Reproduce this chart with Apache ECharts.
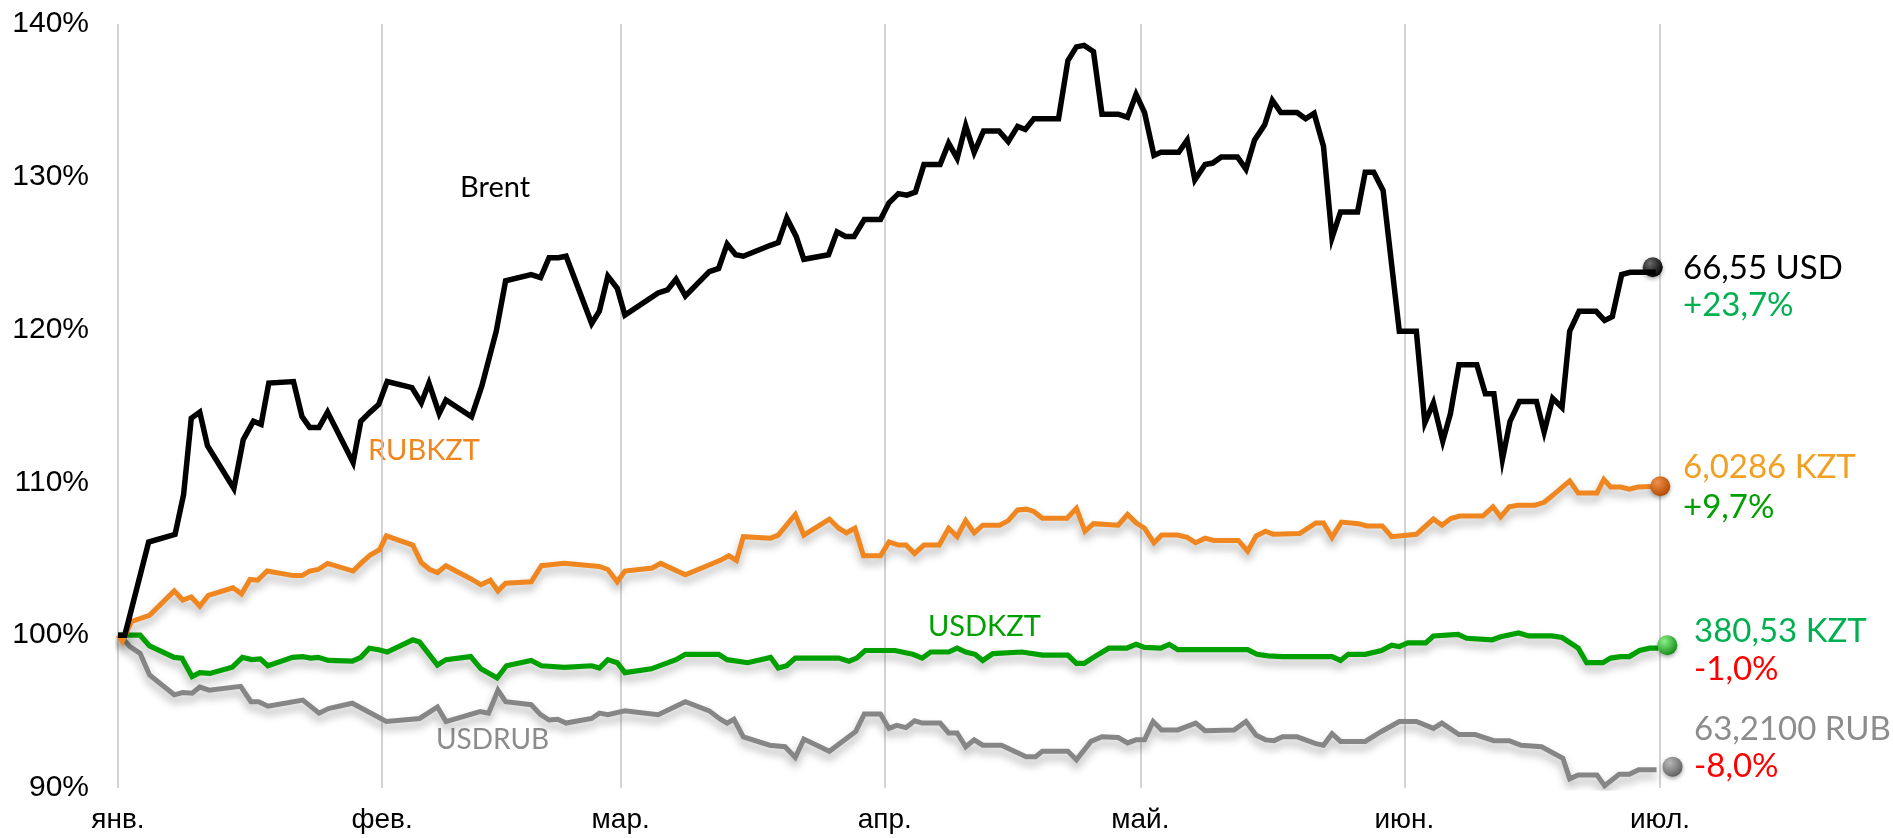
<!DOCTYPE html>
<html>
<head>
<meta charset="utf-8">
<title>Brent, RUBKZT, USDKZT, USDRUB</title>
<style>
  html, body { margin: 0; padding: 0; background: #fff; }
  #container { width: 1893px; height: 838px; }
</style>
</head>
<body>
<div id="container"></div>
<script src="https://cdn.jsdelivr.net/npm/echarts@6/dist/echarts.min.js"></script>
<script>
// day offsets from 1 Jan (month starts) and their labels
var monthDays = [0, 31, 59, 90, 120, 151, 181];
var monthNames = ['янв.', 'фев.', 'мар.', 'апр.', 'май.', 'июн.', 'июл.'];
var yTicks = [90, 100, 110, 120, 130, 140];

// [day, % of 1 Jan level]
var brent = [[0,100],[0.8,100],[3.6,106.1],[6.7,106.6],[7.7,109.2],[8.6,114.2],[9.6,114.6],[10.5,112.4],[13.6,109.6],[14.7,112.8],[15.9,114.0],[16.8,113.8],[17.7,116.5],[20.6,116.6],[21.6,114.3],[22.5,113.6],[23.6,113.6],[24.6,114.6],[27.6,111.3],[28.5,114.0],[29.6,114.6],[30.6,115.1],[31.6,116.6],[34.5,116.2],[35.6,115.2],[36.5,116.5],[37.7,114.5],[38.5,115.4],[41.5,114.3],[42.7,116.3],[44.4,119.9],[45.5,123.2],[48.5,123.6],[49.6,123.4],[50.6,124.7],[51.7,124.7],[52.6,124.8],[55.6,120.4],[56.5,121.2],[57.5,123.5],[58.6,122.7],[59.5,120.95],[63.4,122.4],[64.5,122.6],[65.5,123.3],[66.6,122.2],[69.4,123.8],[70.5,124.0],[71.5,125.6],[72.5,124.9],[73.4,124.8],[76.5,125.5],[77.5,125.7],[78.5,127.3],[79.6,126.1],[80.5,124.6],[83.4,124.9],[84.4,126.4],[85.4,126.1],[86.4,126.1],[87.6,127.2],[89.5,127.2],[90.5,128.3],[91.6,128.9],[92.6,128.8],[93.6,129.0],[94.6,130.8],[96.5,130.8],[97.5,132.2],[98.5,131.2],[99.5,133.35],[100.5,131.6],[101.6,133.0],[103.4,133.0],[104.5,132.3],[105.6,133.3],[106.5,133.1],[107.5,133.8],[110.4,133.8],[111.5,137.6],[112.5,138.5],[113.4,138.6],[114.5,138.2],[115.5,134.1],[117.4,134.1],[118.5,133.9],[119.5,135.4],[120.5,134.2],[121.6,131.4],[122.4,131.6],[124.5,131.6],[125.5,132.4],[126.4,129.8],[127.6,130.8],[128.5,130.9],[129.5,131.3],[131.4,131.3],[132.4,130.5],[133.4,132.4],[134.6,133.4],[135.5,135.0],[136.5,134.2],[138.4,134.2],[139.4,133.8],[140.4,134.15],[141.5,132.0],[142.5,126.0],[143.5,127.7],[145.5,127.7],[146.4,130.3],[147.4,130.3],[148.5,129.1],[150.4,119.9],[152.4,119.9],[153.4,113.9],[154.4,115.2],[155.5,112.7],[156.4,114.5],[157.4,117.7],[159.5,117.7],[160.5,115.8],[161.5,115.8],[162.5,111.5],[163.4,114.0],[164.5,115.3],[166.5,115.3],[167.4,113.3],[168.4,115.5],[169.5,114.9],[170.4,119.9],[171.5,121.2],[173.5,121.2],[174.5,120.6],[175.4,120.85],[176.5,123.6],[177.5,123.75],[180.5,123.75]];

var rubkzt = [[0,100],[0.5,99.6],[1.6,100.9],[3.7,101.3],[6.6,102.9],[7.6,102.3],[8.6,102.5],[9.6,101.9],[10.6,102.6],[13.5,103.1],[14.5,102.7],[15.5,103.65],[16.4,103.6],[17.5,104.2],[20.6,103.9],[21.6,103.9],[22.5,104.2],[23.5,104.3],[24.6,104.7],[27.6,104.2],[28.6,104.75],[29.6,105.25],[30.7,105.6],[31.5,106.5],[34.6,105.9],[35.6,104.75],[36.6,104.3],[37.5,104.1],[38.5,104.55],[41.4,103.7],[42.6,103.3],[43.7,103.6],[44.6,102.9],[45.5,103.4],[48.5,103.5],[49.7,104.55],[52.4,104.7],[56.5,104.5],[57.5,104.3],[58.6,103.5],[59.5,104.2],[62.7,104.4],[63.7,104.7],[66.6,103.95],[70.7,104.9],[71.7,105.2],[72.6,104.9],[73.4,106.45],[76.6,106.35],[77.5,106.55],[79.5,107.9],[80.5,106.55],[83.5,107.6],[84.6,107.0],[85.5,106.7],[86.5,107.0],[87.5,105.2],[89.5,105.2],[90.5,106.1],[91.6,105.9],[92.5,105.9],[93.5,105.35],[94.6,105.9],[96.4,105.9],[97.5,107.0],[98.5,106.45],[99.5,107.5],[100.5,106.7],[101.5,107.2],[103.5,107.2],[104.5,107.5],[105.6,108.2],[106.6,108.25],[107.5,108.1],[108.5,107.65],[111.4,107.65],[112.5,108.3],[113.5,106.8],[114.5,107.3],[117.4,107.2],[118.5,107.9],[119.5,107.35],[120.5,107.0],[121.6,106.05],[122.5,106.55],[124.4,106.55],[125.5,106.4],[126.5,106.05],[127.6,106.35],[128.6,106.2],[131.5,106.2],[132.6,105.5],[133.6,106.5],[134.7,106.8],[135.6,106.6],[138.7,106.65],[140.6,107.35],[141.5,107.35],[142.5,106.4],[143.6,107.4],[145.6,107.3],[146.6,107.15],[148.4,107.15],[149.5,106.45],[152.4,106.6],[154.4,107.6],[155.4,107.2],[156.5,107.65],[157.5,107.8],[160.2,107.8],[161.4,108.4],[162.3,107.75],[163.3,108.4],[164.3,108.5],[166.3,108.5],[167.4,108.7],[168.5,109.2],[170.4,110.1],[171.4,109.3],[173.6,109.3],[174.4,110.2],[175.2,109.7],[176.4,109.7],[177.4,109.55],[178.4,109.7],[180.8,109.75]];

var usdkzt = [[0,100],[2.6,100],[3.7,99.3],[6.6,98.55],[7.5,98.5],[8.7,97.3],[9.6,97.55],[10.8,97.5],[13.4,97.9],[14.6,98.55],[15.7,98.4],[16.7,98.45],[17.6,98.0],[20.5,98.55],[21.7,98.6],[22.6,98.5],[23.5,98.55],[24.7,98.35],[27.5,98.3],[28.5,98.55],[29.5,99.15],[30.6,99.05],[31.6,98.9],[34.6,99.7],[35.4,99.55],[37.5,98.05],[38.5,98.4],[41.4,98.6],[42.6,97.8],[44.5,97.2],[45.6,98.0],[48.5,98.35],[49.7,98.0],[52.4,97.9],[55.6,98.0],[56.5,97.85],[57.5,98.4],[58.6,98.2],[59.5,97.55],[62.6,97.8],[65.5,98.4],[66.6,98.75],[70.5,98.75],[71.5,98.4],[73.9,98.2],[76.6,98.55],[77.5,97.85],[78.5,98.0],[79.5,98.5],[84.6,98.5],[85.8,98.3],[86.7,98.5],[87.7,99.0],[91.2,99.0],[93.3,98.75],[94.4,98.5],[95.4,98.9],[97.5,98.9],[98.5,99.15],[99.5,98.9],[100.6,98.75],[101.5,98.35],[102.7,98.8],[106.1,98.9],[108.5,98.7],[111.5,98.7],[112.5,98.15],[113.4,98.15],[114.5,98.55],[116.3,99.15],[118.4,99.15],[119.5,99.4],[120.5,99.2],[122.4,99.15],[123.4,99.4],[124.4,99.05],[132.6,99.05],[133.7,98.75],[135.0,98.65],[136.7,98.6],[142.5,98.6],[143.5,98.35],[144.4,98.75],[146.4,98.75],[148.3,99.0],[149.5,99.35],[150.4,99.25],[151.4,99.5],[153.5,99.5],[154.4,99.95],[157.3,100.05],[158.3,99.8],[161.3,99.7],[162.3,99.9],[164.4,100.15],[165.6,99.95],[168.3,99.95],[169.5,99.85],[171.4,99.15],[172.4,98.2],[174.3,98.2],[175.2,98.5],[176.4,98.6],[177.4,98.6],[178.6,99.0],[179.8,99.15],[180.8,99.15]];

var usdrub = [[0,100],[0.4,99.9],[1.4,99.25],[2.6,98.8],[3.7,97.4],[6.6,96.1],[7.6,96.25],[8.7,96.2],[9.6,96.6],[10.7,96.4],[14.4,96.65],[15.6,95.65],[16.5,95.65],[17.6,95.35],[21.7,95.75],[23.6,94.9],[24.7,95.2],[27.5,95.55],[31.5,94.35],[35.4,94.55],[37.5,95.3],[38.5,94.35],[42.5,95.0],[43.5,94.9],[44.6,96.4],[45.5,95.65],[48.5,95.45],[49.6,94.8],[50.6,94.45],[51.6,94.5],[52.6,94.25],[55.6,94.55],[56.5,94.9],[57.5,94.8],[59.5,95.05],[63.4,94.8],[66.6,95.65],[69.4,95.05],[70.7,94.5],[71.5,94.25],[72.3,94.5],[73.4,93.35],[76.5,92.8],[78.3,92.7],[79.5,92.0],[80.5,93.2],[83.5,92.4],[86.6,93.7],[87.6,94.85],[89.5,94.85],[90.5,93.9],[91.4,94.1],[92.5,93.95],[93.5,94.4],[94.4,94.25],[96.5,94.25],[97.5,93.6],[98.5,93.6],[99.5,92.7],[100.5,93.15],[101.5,92.8],[103.7,92.8],[106.6,92.05],[107.7,92.05],[108.5,92.4],[111.5,92.4],[112.5,91.85],[114.2,93.05],[115.5,93.35],[117.4,93.3],[118.5,92.95],[119.5,93.15],[120.5,93.15],[121.5,94.35],[122.5,93.8],[124.4,93.8],[126.5,94.25],[127.6,93.75],[131.0,93.8],[132.4,94.35],[133.6,93.45],[134.7,93.15],[135.7,93.1],[136.7,93.35],[138.4,93.35],[140.6,92.9],[141.5,92.8],[142.5,93.55],[143.5,93.05],[146.4,93.05],[148.3,93.7],[150.4,94.35],[152.4,94.35],[154.4,93.9],[155.4,94.25],[157.4,93.5],[159.3,93.5],[161.5,93.1],[163.3,93.1],[164.7,92.8],[167.1,92.7],[169.6,91.95],[170.4,90.6],[171.4,90.85],[173.6,90.85],[174.5,90.15],[176.2,90.9],[177.4,90.9],[178.5,91.2],[180.6,91.2]];

var seriesNames = ['Brent', 'RUBKZT', 'USDKZT', 'USDRUB'];
var lastPrices = ['66,55 USD', '6,0286 KZT', '380,53 KZT', '63,2100 RUB'];
var changes = ['+23,7%', '+9,7%', '-1,0%', '-8,0%'];

var dom = document.getElementById('container');
var myChart = echarts.init(dom, null, {renderer: 'canvas'});

var labelFont = 'Lato, Carlito, "Open Sans", sans-serif';

function ball(light, dark) {
    return new echarts.graphic.RadialGradient(0.35, 0.3, 0.75, [
        {offset: 0, color: light},
        {offset: 1, color: dark}
    ]);
}

function endBall(data, light, dark, offset) {
    var last = data[data.length - 1];
    return {
        symbol: 'circle',
        symbolSize: 20,
        silent: true,
        animation: false,
        label: {show: false},
        itemStyle: {
            color: ball(light, dark),
            shadowColor: 'rgba(0,0,0,0.35)',
            shadowBlur: 4,
            shadowOffsetY: 2
        },
        data: [{coord: last, symbolOffset: offset}]
    };
}

function lineSeries(name, data, color, width, shadow) {
    var ls = {color: color, width: width, join: 'miter', cap: 'butt'};
    if (shadow) {
        ls.shadowColor = 'rgba(0,0,0,0.3)';
        ls.shadowBlur = 9;
        ls.shadowOffsetY = 6;
    }
    return {
        name: name,
        type: 'line',
        data: data,
        showSymbol: false,
        symbol: 'none',
        smooth: false,
        lineStyle: ls,
        emphasis: {disabled: true}
    };
}

var s0 = lineSeries(seriesNames[0], brent, '#000000', 5.5, false);
s0.markPoint = endBall(brent, '#6a6a6a', '#000000', [-3, -5]);
s0.z = 5;
var s1 = lineSeries(seriesNames[1], rubkzt, '#f0861f', 5, true);
s1.markPoint = endBall(rubkzt, '#f0904a', '#b34800', [2, 0]);
var s2 = lineSeries(seriesNames[2], usdkzt, '#00a000', 5.2, true);
s2.markPoint = endBall(usdkzt, '#8af08a', '#138a13', [9, -3]);
var s3 = lineSeries(seriesNames[3], usdrub, '#868686', 5, true);
s3.markPoint = endBall(usdrub, '#b8b8b8', '#606060', [16, -3]);

function txt(x, y, text, color, size, weight) {
    return {
        type: 'text',
        x: x,
        y: y,
        silent: true,
        style: {
            text: text,
            fill: color,
            font: (weight || 'normal') + ' ' + size + 'px ' + labelFont,
            verticalAlign: 'middle',
            align: 'left'
        }
    };
}

var option = {
    animation: false,
    backgroundColor: '#ffffff',
    grid: {left: 118, right: 233, top: 24, bottom: 50, containLabel: false},
    xAxis: {
        type: 'value',
        min: monthDays[0],
        max: monthDays[monthDays.length - 1],
        axisLine: {show: false},
        axisTick: {show: false, customValues: monthDays},
        axisLabel: {
            customValues: monthDays,
            margin: 18,
            color: '#000',
            fontFamily: '"Liberation Sans", Arial, sans-serif',
            fontSize: 28,
            formatter: function (v) {
                var i = monthDays.indexOf(v);
                return i >= 0 ? monthNames[i] : '';
            }
        },
        splitLine: {show: true, lineStyle: {color: '#c4c4c4', width: 1.5}}
    },
    yAxis: {
        type: 'value',
        min: yTicks[0],
        max: yTicks[yTicks.length - 1],
        interval: 10,
        axisLine: {show: false},
        axisTick: {show: false},
        splitLine: {show: false},
        axisLabel: {
            margin: 29,
            color: '#000',
            fontFamily: '"Liberation Sans", Arial, sans-serif',
            fontSize: 30,
            formatter: '{value}%'
        }
    },
    series: [s3, s2, s1, s0],
    graphic: [
        txt(460, 188, seriesNames[0], '#000000', 29),
        txt(368, 451, seriesNames[1], '#f0861f', 29),
        txt(928, 627, seriesNames[2], '#00a000', 29),
        txt(436, 740, seriesNames[3], '#8c8c8c', 28),
        txt(1683, 268, lastPrices[0], '#000000', 33),
        txt(1683, 305, changes[0], '#00b050', 33),
        txt(1683, 467, lastPrices[1], '#f2a023', 33),
        txt(1683, 507, changes[1], '#00a000', 33),
        txt(1694, 631, lastPrices[2], '#00b050', 33),
        txt(1694, 669, changes[2], '#ff0000', 33),
        txt(1694, 729, lastPrices[3], '#8c8c8c', 33),
        txt(1694, 766, changes[3], '#ff0000', 33)
    ]
};

if (option && typeof option === 'object') {
    myChart.setOption(option, true);
}
</script>
</body>
</html>
